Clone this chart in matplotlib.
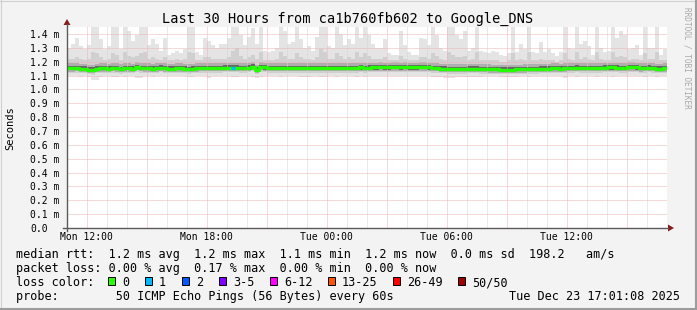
import matplotlib
matplotlib.use("Agg")
import matplotlib.pyplot as plt
import matplotlib.dates as mdates
from matplotlib.patches import Rectangle, Polygon
from matplotlib.lines import Line2D
from datetime import datetime, timedelta

# ---------------- data ----------------
title = "Last 30 Hours from ca1b760fb602 to Google_DNS"
end_time = datetime(2025, 12, 23, 17, 1, 8)
span_hours = 30
step_minutes = 12

median_ms = [
    1.152, 1.152, 1.154, 1.150, 1.150, 1.143, 1.141, 1.150, 1.152, 1.152, 1.150, 1.155, 1.152,
    1.148, 1.152, 1.152, 1.150, 1.162, 1.155, 1.152, 1.152, 1.150, 1.152, 1.156, 1.152,
    1.150, 1.150, 1.152, 1.152, 1.150, 1.148, 1.150, 1.152, 1.154, 1.154, 1.155, 1.155, 1.155,
    1.155, 1.156, 1.156, 1.157, 1.156, 1.154, 1.155, 1.157, 1.165, 1.142, 1.162, 1.158,
    1.155, 1.155, 1.155, 1.155, 1.155, 1.155, 1.155, 1.155, 1.155, 1.155, 1.155, 1.155, 1.153,
    1.155, 1.155, 1.155, 1.153, 1.155, 1.155, 1.155, 1.155, 1.155, 1.155, 1.158, 1.155,
    1.156, 1.158, 1.158, 1.160, 1.158, 1.158, 1.160, 1.160, 1.158, 1.160, 1.158, 1.158, 1.158,
    1.160, 1.160, 1.158, 1.155, 1.153, 1.150, 1.150, 1.148, 1.148, 1.148, 1.148, 1.148,
    1.150, 1.150, 1.150, 1.148, 1.146, 1.145, 1.144, 1.144, 1.143, 1.143, 1.143, 1.143, 1.144,
    1.144, 1.145, 1.146, 1.148, 1.148, 1.150, 1.150, 1.150, 1.152, 1.152, 1.150, 1.152,
    1.155, 1.155, 1.156, 1.155, 1.153, 1.155, 1.155, 1.153, 1.155, 1.157, 1.158, 1.158, 1.156,
    1.155, 1.155, 1.160, 1.160, 1.158, 1.152, 1.155, 1.156, 1.155, 1.150, 1.150, 1.152,
]

max_ms = [
    1.30, 1.33, 1.37, 1.31, 1.29, 1.32, 1.50, 1.50, 1.36, 1.29, 1.31, 1.50, 1.48,
    1.29, 1.50, 1.42, 1.35, 1.39, 1.50, 1.50, 1.32, 1.36, 1.33, 1.28, 1.37,
    1.25, 1.26, 1.28, 1.26, 1.29, 1.50, 1.50, 1.27, 1.25, 1.37, 1.35, 1.32, 1.30,
    1.33, 1.33, 1.37, 1.50, 1.50, 1.39, 1.32, 1.38, 1.44, 1.33, 1.50, 1.28,
    1.27, 1.28, 1.30, 1.50, 1.42, 1.33, 1.34, 1.50, 1.36, 1.30, 1.31, 1.28, 1.38,
    1.50, 1.50, 1.31, 1.30, 1.50, 1.40, 1.32, 1.36, 1.33, 1.50, 1.37, 1.50,
    1.39, 1.33, 1.30, 1.30, 1.36, 1.26, 1.25, 1.25, 1.42, 1.32, 1.27, 1.25, 1.25,
    1.37, 1.36, 1.32, 1.50, 1.39, 1.30, 1.28, 1.50, 1.45, 1.39, 1.36, 1.42,
    1.28, 1.30, 1.50, 1.28, 1.27, 1.26, 1.28, 1.27, 1.25, 1.24, 1.26, 1.50, 1.27,
    1.33, 1.29, 1.50, 1.27, 1.26, 1.34, 1.27, 1.29, 1.26, 1.24, 1.27, 1.50,
    1.30, 1.29, 1.50, 1.33, 1.35, 1.31, 1.25, 1.50, 1.30, 1.27, 1.28, 1.50, 1.37,
    1.42, 1.39, 1.29, 1.30, 1.32, 1.25, 1.50, 1.30, 1.30, 1.50, 1.25, 1.29,
]

upper_ms = [
    1.22, 1.22, 1.23, 1.22, 1.21, 1.22, 1.27, 1.26, 1.23, 1.21, 1.22, 1.26, 1.25,
    1.21, 1.27, 1.24, 1.23, 1.24, 1.26, 1.27, 1.22, 1.23, 1.22, 1.21, 1.23,
    1.21, 1.21, 1.22, 1.21, 1.22, 1.27, 1.26, 1.21, 1.21, 1.23, 1.23, 1.22, 1.22,
    1.22, 1.22, 1.23, 1.28, 1.30, 1.24, 1.22, 1.23, 1.25, 1.22, 1.27, 1.21,
    1.21, 1.21, 1.22, 1.27, 1.24, 1.22, 1.22, 1.26, 1.23, 1.22, 1.22, 1.21, 1.23,
    1.29, 1.27, 1.22, 1.22, 1.26, 1.24, 1.22, 1.23, 1.22, 1.27, 1.23, 1.26,
    1.24, 1.22, 1.22, 1.22, 1.23, 1.21, 1.21, 1.21, 1.24, 1.22, 1.21, 1.21, 1.21,
    1.23, 1.23, 1.22, 1.26, 1.24, 1.22, 1.21, 1.27, 1.25, 1.23, 1.23, 1.24,
    1.21, 1.22, 1.27, 1.21, 1.21, 1.21, 1.21, 1.21, 1.20, 1.20, 1.21, 1.26, 1.21,
    1.22, 1.21, 1.27, 1.21, 1.21, 1.22, 1.21, 1.21, 1.21, 1.20, 1.21, 1.26,
    1.22, 1.21, 1.27, 1.22, 1.23, 1.22, 1.21, 1.27, 1.22, 1.21, 1.21, 1.27, 1.23,
    1.24, 1.23, 1.21, 1.22, 1.22, 1.21, 1.26, 1.22, 1.22, 1.27, 1.21, 1.21,
]

min_ms = [
    1.10, 1.10, 1.10, 1.09, 1.10, 1.09, 1.07, 1.07, 1.09, 1.10, 1.10, 1.09, 1.09,
    1.10, 1.09, 1.10, 1.10, 1.08, 1.08, 1.10, 1.10, 1.09, 1.10, 1.10, 1.10,
    1.10, 1.10, 1.10, 1.10, 1.10, 1.09, 1.09, 1.10, 1.10, 1.10, 1.085, 1.10, 1.10,
    1.10, 1.10, 1.10, 1.09, 1.09, 1.10, 1.10, 1.10, 1.09, 1.08, 1.09, 1.10,
    1.10, 1.10, 1.10, 1.09, 1.10, 1.10, 1.10, 1.10, 1.09, 1.09, 1.09, 1.10, 1.10,
    1.09, 1.09, 1.10, 1.10, 1.09, 1.10, 1.10, 1.10, 1.10, 1.09, 1.10, 1.09,
    1.10, 1.10, 1.10, 1.10, 1.10, 1.10, 1.10, 1.10, 1.10, 1.10, 1.10, 1.10, 1.10,
    1.10, 1.10, 1.10, 1.09, 1.09, 1.09, 1.085, 1.085, 1.085, 1.09, 1.09, 1.09,
    1.09, 1.09, 1.09, 1.09, 1.095, 1.095, 1.095, 1.095, 1.09, 1.09, 1.09, 1.09, 1.09,
    1.095, 1.095, 1.09, 1.095, 1.095, 1.10, 1.10, 1.10, 1.10, 1.10, 1.10, 1.085,
    1.10, 1.10, 1.09, 1.10, 1.10, 1.10, 1.10, 1.09, 1.10, 1.10, 1.10, 1.09, 1.10,
    1.10, 1.10, 1.10, 1.10, 1.10, 1.10, 1.09, 1.10, 1.10, 1.09, 1.10, 1.10,
]

loss_pings = [
    0, 0, 0, 0, 0, 0, 0, 0, 0, 0, 0, 0, 0, 0, 0, 0, 0, 0, 0, 0, 0, 0, 0, 0, 0,
    0, 0, 0, 0, 0, 0, 0, 0, 0, 0, 0, 0, 0, 0, 0, 0, 1, 0, 0, 0, 0, 0, 0, 0, 0,
    0, 0, 0, 0, 0, 0, 0, 0, 0, 0, 0, 0, 0, 0, 0, 0, 0, 0, 0, 0, 0, 0, 0, 0, 0,
    0, 0, 0, 0, 0, 0, 0, 0, 0, 0, 0, 0, 0, 0, 0, 0, 0, 0, 0, 0, 0, 0, 0, 0, 0,
    0, 0, 0, 0, 0, 0, 0, 0, 0, 0, 0, 0, 0, 0, 0, 0, 0, 0, 0, 0, 0, 0, 0, 0, 0,
    0, 0, 0, 0, 0, 0, 0, 0, 0, 0, 0, 0, 0, 0, 0, 0, 0, 0, 0, 0, 0, 0, 0, 0, 0,
]

y_ticks = [0.0, 0.1, 0.2, 0.3, 0.4, 0.5, 0.6, 0.7, 0.8, 0.9, 1.0, 1.1, 1.2, 1.3, 1.4]
y_tick_labels = ["0.0", "0.1 m", "0.2 m", "0.3 m", "0.4 m", "0.5 m", "0.6 m", "0.7 m",
                 "0.8 m", "0.9 m", "1.0 m", "1.1 m", "1.2 m", "1.3 m", "1.4 m"]

loss_labels = ["0", "1", "2", "3-5", "6-12", "13-25", "26-49", "50/50"]
loss_colors = ["#26ff00", "#00b8ff", "#0059ff", "#7e00ff", "#ff00ff", "#ff5500", "#ff0000", "#a10000"]
loss_upper_bounds = [0, 1, 2, 5, 12, 25, 49, 50]

stat_lines = [
    "median rtt:  1.2 ms avg  1.2 ms max  1.1 ms min  1.2 ms now  0.0 ms sd  198.2   am/s",
    "packet loss: 0.00 % avg  0.17 % max  0.00 % min  0.00 % now",
    "loss color:",
    "probe:        50 ICMP Echo Pings (56 Bytes) every 60s",
]
date_stamp = "Tue Dec 23 17:01:08 2025"
y_label = "Seconds"
watermark = "RRDTOOL / TOBI OETIKER"

# ---------------- layout ----------------
W, H = 697, 310
DPI = 100
MONO = "DejaVu Sans Mono"

def fx(px):
    return px / W

def fy(py):
    return 1 - py / H

fig = plt.figure(figsize=(W / DPI, H / DPI), dpi=DPI)
fig.patch.set_facecolor("#f3f3f3")

# frame shading
fig.add_artist(Line2D([0, 1], [fy(0.5), fy(0.5)], transform=fig.transFigure, color="#d0d0d0", lw=0.8))
fig.add_artist(Line2D([fx(0.5), fx(0.5)], [0, 1], transform=fig.transFigure, color="#d0d0d0", lw=0.8))
fig.add_artist(Line2D([0, 1], [fy(H - 1), fy(H - 1)], transform=fig.transFigure, color="#9c9c9c", lw=1.5))
fig.add_artist(Line2D([fx(W - 1), fx(W - 1)], [0, 1], transform=fig.transFigure, color="#9c9c9c", lw=1.5))

L, R, T, B = 67, 667, 27, 228
ax = fig.add_axes([fx(L), fy(B), (R - L) / W, (B - T) / H])
ax.set_facecolor("white")
for s in ax.spines.values():
    s.set_visible(False)

start_time = end_time - timedelta(hours=span_hours)
n = len(median_ms)
edges = [mdates.date2num(start_time + timedelta(minutes=step_minutes * i)) for i in range(n + 1)]

def ext(v):
    return list(v) + [v[-1]]

lower_band = [m - 0.034 for m in median_ms]
mid_lo = [m - 0.024 for m in median_ms]
mid_hi = [m + 0.035 for m in median_ms]
dark_lo = [m - 0.015 for m in median_ms]
dark_hi = [m + 0.017 for m in median_ms]

ax.fill_between(edges, ext(min_ms), ext(max_ms), step="post", color="#e4e4e4", lw=0, zorder=1)
ax.fill_between(edges, ext(lower_band), ext(upper_ms), step="post", color="#d0d0d0", lw=0, zorder=1.1)
ax.fill_between(edges, ext(mid_lo), ext(mid_hi), step="post", color="#aeaeae", lw=0, zorder=1.2)
ax.fill_between(edges, ext(dark_lo), ext(dark_hi), step="post", color="#666666", lw=0, zorder=1.3)

# grid
ax.set_xlim(edges[0], edges[-1])
ax.set_ylim(0, 1.45)
hour0 = start_time.replace(minute=0, second=0) + timedelta(hours=1)
t = hour0
while t < end_time:
    major = (t.hour % 3 == 0)
    ax.axvline(mdates.date2num(t), color="#eeb4b4" if major else "#d6d6d6",
               lw=0.72, ls=(0, (1, 1)), zorder=2, snap=True)
    t += timedelta(hours=1)
for yv in y_ticks[1:]:
    ax.axhline(yv, color="#eeb4b4", lw=0.72, ls=(0, (1, 1)), zorder=2, snap=True)

# median line coloured by loss
def loss_color(k):
    for b, c in zip(loss_upper_bounds, loss_colors):
        if k <= b:
            return c
    return loss_colors[-1]

ax.step(edges, ext(median_ms), where="post", color=loss_colors[0], lw=2.4,
        solid_capstyle="butt", zorder=3)
for i, k in enumerate(loss_pings):
    if k > 0:
        ax.plot([edges[i], edges[i + 1]], [median_ms[i], median_ms[i]], color=loss_color(k),
                lw=2.4, solid_capstyle="butt", zorder=3.1)

# ticks
label_times = []
t = hour0
while t < end_time:
    if t.hour % 6 == 0:
        label_times.append(t)
    t += timedelta(hours=1)
ax.set_xticks([mdates.date2num(x) for x in label_times])
ax.set_xticklabels([x.strftime("%a %H:%M") for x in label_times], family=MONO, fontsize=7)
ax.tick_params(axis="x", length=0, pad=3)
ax.set_yticks(y_ticks)
ax.set_yticklabels(y_tick_labels, family=MONO, fontsize=7)
for lab in ax.get_yticklabels():
    lab.set_horizontalalignment("left")
ax.tick_params(axis="y", length=0, pad=(L - 30) * 72 / DPI)

# axes lines and arrows
axis_col = "#5a5a5a"
arrow_col = "#8b1a1a"
fig.add_artist(Line2D([fx(L), fx(L)], [fy(B + 3), fy(24)], transform=fig.transFigure, color=axis_col, lw=1.0))
fig.add_artist(Line2D([fx(63), fx(668)], [fy(B), fy(B)], transform=fig.transFigure, color=axis_col, lw=1.0))
fig.add_artist(Polygon([[fx(L - 3.5), fy(25)], [fx(L + 3.5), fy(25)], [fx(L), fy(19)]],
                       closed=True, transform=fig.transFigure, color=arrow_col, lw=0))
fig.add_artist(Polygon([[fx(668), fy(B - 3.5)], [fx(668), fy(B + 3.5)], [fx(674), fy(B)]],
                       closed=True, transform=fig.transFigure, color=arrow_col, lw=0))

# title & labels
fig.text(fx(348), fy(23), title, family=MONO, fontsize=9.8, ha="center", va="baseline", color="#000000")
fig.text(fx(10), fy(128), y_label, family=MONO, fontsize=7.5, rotation=90, ha="center", va="center")
fig.text(fx(687), fy(58), watermark, family=MONO, fontsize=5.6, rotation=-90, ha="center", va="center",
         color="#a9a9a9")

# legend / stats
baselines = [258, 272, 286, 300]
for line, b in zip(stat_lines, baselines):
    fig.text(fx(16), fy(b), line, family=MONO, fontsize=8.5, ha="left", va="baseline")
fig.text(fx(680), fy(300), date_stamp, family=MONO, fontsize=8.5, ha="right", va="baseline")

box_x = [108, 145, 182, 219, 270, 328, 393, 458]
for bx, lab, col in zip(box_x, loss_labels, loss_colors):
    fig.add_artist(Rectangle((fx(bx), fy(285)), 7 / W, 8 / H, transform=fig.transFigure,
                             facecolor=col, edgecolor="#000000", lw=0.7))
    fig.text(fx(bx + 14), fy(286), lab, family=MONO, fontsize=8.5, ha="left", va="baseline")

fig.savefig("out.png", dpi=DPI, facecolor=fig.get_facecolor())
